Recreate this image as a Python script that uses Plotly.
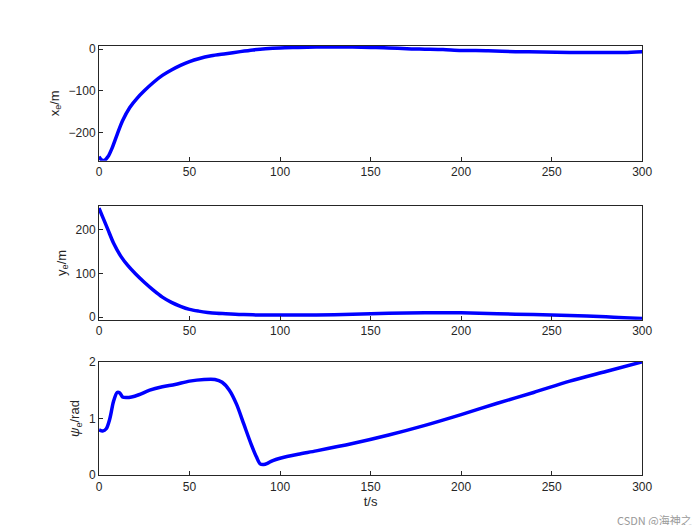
import plotly.graph_objects as go
from plotly.subplots import make_subplots

t_x = [0, 1.5, 3, 5, 7, 10, 13, 17, 21, 25, 30, 35, 40, 45, 50, 55, 62, 70, 78, 85, 92, 100, 110, 120, 130, 140, 150, 160, 170, 180, 190, 200, 215, 230, 245, 260, 275, 290, 300]
x_e = [-258, -266, -267, -258, -240, -205, -172, -140, -118, -100, -80, -63, -50, -39, -30, -23, -16, -11, -6, -2, 1, 3, 4, 5, 5, 5, 4, 3, 1, 0, -1, -3, -4, -6, -7, -8, -8, -8, -6]

t_y = [0, 2, 5, 8, 12, 16, 20, 25, 30, 35, 40, 45, 50, 55, 60, 65, 70, 80, 90, 100, 120, 140, 160, 180, 200, 220, 240, 260, 280, 290, 300]
y_e = [250, 230, 200, 170, 140, 118, 100, 80, 62, 46, 34, 25, 18, 14, 11, 9, 8, 6, 5, 5, 5, 7, 9, 10, 10, 8, 6, 4, 1, -1, -3]

t_psi = [0, 2, 4, 6, 8, 10, 11.5, 13, 15, 18, 22, 28, 35, 42, 50, 58, 64, 68, 72, 76, 80, 84, 87, 89, 91, 93, 96, 100, 110, 120, 140, 160, 180, 200, 220, 240, 260, 280, 300]
psi_e = [0.8, 0.78, 0.82, 1.0, 1.3, 1.46, 1.45, 1.38, 1.37, 1.38, 1.42, 1.5, 1.56, 1.6, 1.66, 1.69, 1.69, 1.64, 1.5, 1.25, 0.9, 0.55, 0.32, 0.2, 0.19, 0.21, 0.26, 0.3, 0.37, 0.43, 0.56, 0.71, 0.88, 1.07, 1.27, 1.46, 1.66, 1.83, 2.0]

fig = make_subplots(rows=3, cols=1)
blue = "rgb(0,0,255)"
for i, (tx, ty) in enumerate([(t_x, x_e), (t_y, y_e), (t_psi, psi_e)], start=1):
    fig.add_trace(go.Scatter(x=tx, y=ty, mode="lines", line=dict(color=blue, width=3.5, shape="spline", smoothing=0.8),
                             showlegend=False), row=i, col=1)

doms = [[0.709, 0.928], [0.406, 0.623], [0.110, 0.326]]
ranges = [[-268, 8], [-6, 255], [0, 2]]
ticks = [[-200, -100, 0], [0, 100, 200], [0, 1, 2]]
titles = ["x<sub>e</sub>/m", "y<sub>e</sub>/m", "<i>ψ</i><sub>e</sub>/rad"]
axis_style = dict(showline=True, linecolor="#262626", linewidth=1, mirror=True, ticks="inside", ticklen=4,
                  tickcolor="#262626", showgrid=False, zeroline=False, automargin=False,
                  tickfont=dict(size=12, color="#262626"))
for i in range(3):
    fig.update_xaxes(domain=[0.13, 0.906], range=[0, 300], tickvals=[0, 50, 100, 150, 200, 250, 300], row=i + 1, col=1, **axis_style)
    fig.update_yaxes(domain=doms[i], range=ranges[i], tickvals=ticks[i], title=dict(text=titles[i], standoff=6, font=dict(size=13, color="#262626")),
                     row=i + 1, col=1, **axis_style)
fig.update_xaxes(title=dict(text="t/s", standoff=4, font=dict(size=13, color="#262626")), row=3, col=1)

fig.add_annotation(text="CSDN @海神之光", x=0.995, y=0.005, xref="paper", yref="paper", xanchor="right", yanchor="bottom",
                   showarrow=False, font=dict(size=11, color="#999999", family="Noto Sans CJK SC"))
fig.update_layout(width=700, height=525, margin=dict(l=0, r=0, t=0, b=0), plot_bgcolor="white", paper_bgcolor="white",
                  font=dict(family="Liberation Sans"))
fig.write_html("out.html")
